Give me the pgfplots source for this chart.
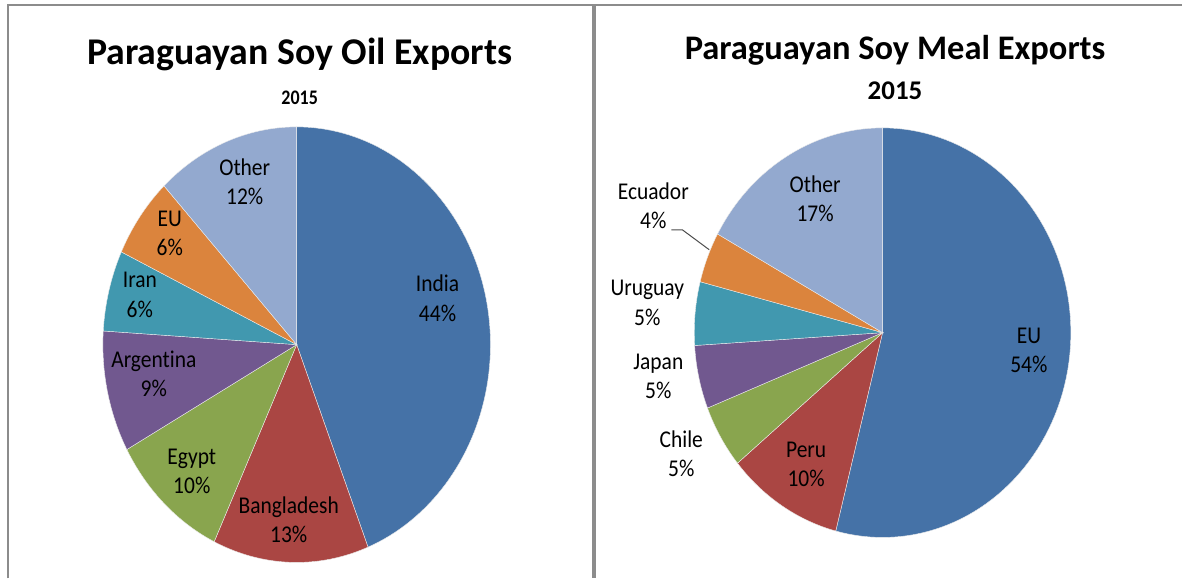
\documentclass[border=0pt]{standalone}
\usepackage{pgfplots}
\usepackage{pgfplotstable}
\usepackage{graphicx}
\usepackage{fontspec}
\setmainfont[Ligatures=NoCommon]{Carlito}
\pgfplotsset{compat=1.18}

\definecolor{cblue}{HTML}{4572A7}
\definecolor{cred}{HTML}{AA4643}
\definecolor{cgreen}{HTML}{89A54E}
\definecolor{cpurple}{HTML}{71588F}
\definecolor{cteal}{HTML}{4198AF}
\definecolor{corange}{HTML}{DB843D}
\definecolor{clight}{HTML}{93A9CF}
\definecolor{frame}{HTML}{8C8C8C}

% Paraguayan soy oil exports 2015 (percent), clockwise from 12 o'clock
\pgfplotstableread{
name pct col
India 44 cblue
Bangladesh 13 cred
Egypt 10 cgreen
Argentina 9 cpurple
Iran 6 cteal
EU 6 corange
Other 12 clight
}\oiltab

% Paraguayan soy meal exports 2015 (percent)
\pgfplotstableread{
name pct col
EU 54 cblue
Peru 10 cred
Chile 5 cgreen
Japan 5 cpurple
Uruguay 5 cteal
Ecuador 4 corange
Other 17 clight
}\mealtab

% #1 table, #2 cx, #3 cy, #4 rx, #5 ry  (pixel coordinates, y downwards)
\newcommand\drawpie[5]{%
  \pgfplotstablegetrowsof{#1}%
  \pgfmathtruncatemacro\nrows{\pgfplotsretval-1}%
  \def\acc{0}%
  \pgfplotsforeachungrouped \i in {0,...,\nrows}{%
    \pgfplotstablegetelem{\i}{pct}\of{#1}\let\p\pgfplotsretval
    \pgfplotstablegetelem{\i}{col}\of{#1}\let\c\pgfplotsretval
    \pgfmathsetmacro\nacc{\acc+\p}%
    \edef\temp{\noexpand\addplot[fill=\c, draw=white!85!gray, line width=0.4pt, domain=\acc:\nacc, samples=90, variable=\noexpand\t]
      ({#2+#4*sin(3.6*\noexpand\t)},{#3-#5*cos(3.6*\noexpand\t)}) -- (axis cs:#2,#3) -- cycle;}%
    \temp
    \global\let\acc\nacc
  }%
}

\newcommand\lb[2]{\scalebox{1}[1.12]{\fontsize{21.5}{26}\selectfont\begin{tabular}{@{}c@{}}#1\\#2\end{tabular}}}

\begin{document}
\begin{tikzpicture}
\begin{axis}[
  hide axis, scale only axis,
  width=1183pt, height=579pt,
  xmin=0, xmax=1183, ymin=0, ymax=579,
  y dir=reverse, clip=false,
]
\path (axis cs:0,0) rectangle (axis cs:1183,579);

\drawpie{\oiltab}{297}{345}{194}{218}
\drawpie{\mealtab}{883.5}{333}{188.5}{205}

% frame
\draw[frame, line width=2.5pt] (axis cs:8,579) -- (axis cs:8,5) -- (axis cs:1183,5);
\draw[frame, line width=4pt] (axis cs:594.5,5) -- (axis cs:594.5,579);

% titles
\node[font=\fontsize{37.8}{42}\selectfont\bfseries] at (axis cs:300,55) {Paraguayan Soy Oil Exports};
\node[font=\fontsize{18}{20}\selectfont\bfseries] at (axis cs:300,98) {\scalebox{1}[1.15]{2015}};
\node[font=\fontsize{34.5}{38}\selectfont\bfseries] at (axis cs:896,50) {Paraguayan Soy Meal Exports};
\node[font=\fontsize{27}{30}\selectfont\bfseries] at (axis cs:896,91) {2015};

% oil labels
\node at (axis cs:438,301) {\lb{India}{44\%}};
\node at (axis cs:289,523) {\lb{Bangladesh}{13\%}};
\node at (axis cs:192,474) {\lb{Egypt}{10\%}};
\node at (axis cs:154,377) {\lb{Argentina}{9\%}};
\node at (axis cs:140,297) {\lb{Iran}{6\%}};
\node at (axis cs:170,235) {\lb{EU}{6\%}};
\node at (axis cs:245,184) {\lb{Other}{12\%}};

% meal labels
\node at (axis cs:1030,353) {\lb{EU}{54\%}};
\node at (axis cs:807,467) {\lb{Peru}{10\%}};
\node at (axis cs:682,457) {\lb{Chile}{5\%}};
\node at (axis cs:659,379) {\lb{Japan}{5\%}};
\node at (axis cs:648,305) {\lb{Uruguay}{5\%}};
\node at (axis cs:654,208) {\lb{Ecuador}{4\%}};
\node at (axis cs:816,201) {\lb{Other}{17\%}};
\draw[black!70, line width=1pt] (axis cs:672,230) -- (axis cs:683,230) -- (axis cs:710,250);
\end{axis}
\end{tikzpicture}
\end{document}
